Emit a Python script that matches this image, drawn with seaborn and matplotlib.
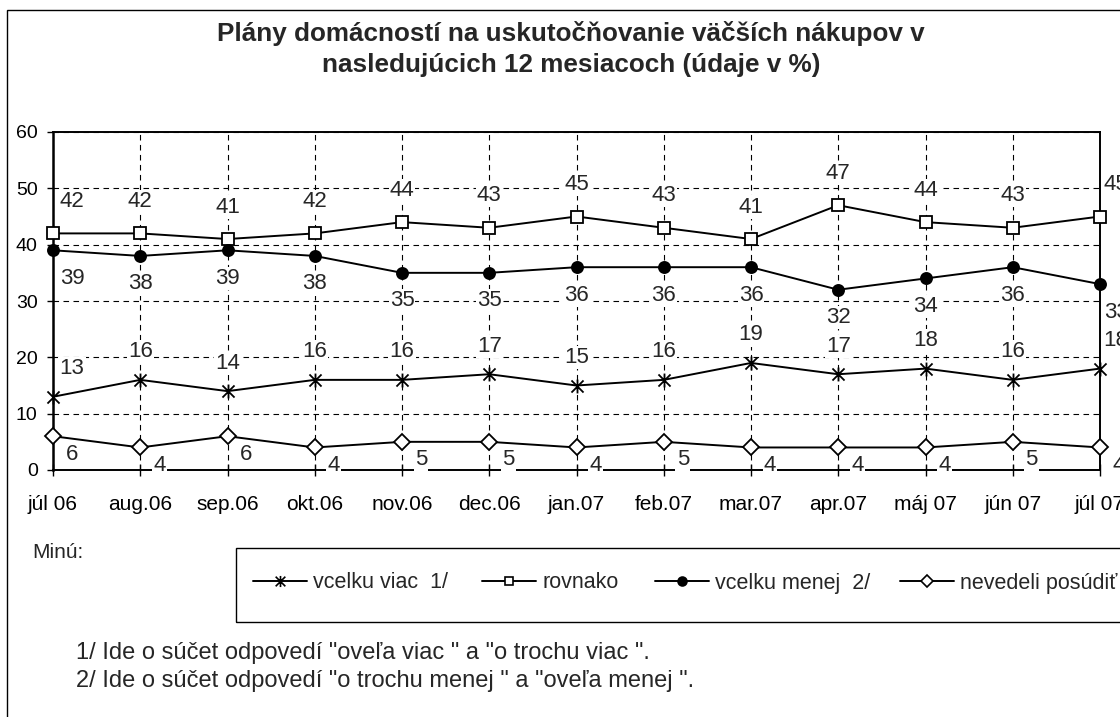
import numpy as np
import pandas as pd
import matplotlib
matplotlib.use("Agg")
import matplotlib.pyplot as plt
from matplotlib.path import Path
from matplotlib.patches import Rectangle
from matplotlib.lines import Line2D
import seaborn as sns

# Data (% of households)
months = ["júl 06", "aug.06", "sep.06", "okt.06", "nov.06", "dec.06", "jan.07",
          "feb.07", "mar.07", "apr.07", "máj 07", "jún 07", "júl 07"]
viac = [13, 16, 14, 16, 16, 17, 15, 16, 19, 17, 18, 16, 18]
rovnako = [42, 42, 41, 42, 44, 43, 45, 43, 41, 47, 44, 43, 45]
menej = [39, 38, 39, 38, 35, 35, 36, 36, 36, 32, 34, 36, 33]
nevedeli = [6, 4, 6, 4, 5, 5, 4, 5, 4, 4, 4, 5, 4]
y_ticks = [0, 10, 20, 30, 40, 50, 60]

title_1 = "Plány domácností na uskutočňovanie väčších nákupov v"
title_2 = "nasledujúcich 12 mesiacoch (údaje v %)"
note_1 = '1/ Ide o súčet odpovedí "oveľa viac " a "o trochu viac ".'
note_2 = '2/ Ide o súčet odpovedí "o trochu menej " a "oveľa menej ".'

sns.set_theme(style="white")
plt.rcParams['font.family'] = ['Liberation Sans', 'DejaVu Sans']

W, H = 1120, 717
fig = plt.figure(figsize=(W / 100, H / 100), dpi=100)
ax = fig.add_axes([53 / W, 1 - 470 / H, (1100 - 53) / W, (470 - 132) / H])

# Excel-style star marker: an X with a vertical bar through it
star = Path([(-1, -1), (1, 1), (-1, 1), (1, -1), (0, -1.15), (0, 1.15)],
            [Path.MOVETO, Path.LINETO, Path.MOVETO, Path.LINETO, Path.MOVETO, Path.LINETO])

styles = {
    "viac": dict(marker=star, markersize=10, markerfacecolor="black"),
    "rovnako": dict(marker="s", markersize=8, markerfacecolor="white"),
    "menej": dict(marker="o", markersize=8, markerfacecolor="black"),
    "nevedeli": dict(marker="D", markersize=8, markerfacecolor="white"),
}
series = [("viac", viac, "vcelku viac  1/"),
          ("rovnako", rovnako, "rovnako"),
          ("menej", menej, "vcelku menej  2/"),
          ("nevedeli", nevedeli, "nevedeli posúdiť")]

x = np.arange(len(months))
for key, vals, _ in series:
    sns.lineplot(x=x, y=vals, ax=ax, color="black", linewidth=1.4,
                 markeredgecolor="black", markeredgewidth=1.3, zorder=4,
                 clip_on=False, legend=False, **styles[key])

# data labels (white boxes hide lines behind them, like the original)
offsets = {"viac": (0, 28), "rovnako": (0, 32), "menej": (0, -28), "nevedeli": (19, -18)}
for key, vals, _ in series:
    dx, dy = offsets[key]
    for i, v in enumerate(vals):
        ddx = dx
        if key != "nevedeli":
            if i == 0:
                ddx = 19
            elif i == len(vals) - 1:
                ddx = 16
        ax.annotate(str(v), (i, v), xytext=(ddx, dy), textcoords="offset pixels",
                    ha="center", va="center", fontsize=16, zorder=6,
                    annotation_clip=False,
                    bbox=dict(boxstyle="square,pad=0.05", fc="white", ec="none"))

ax.set_xlim(0, len(months) - 1)
ax.set_ylim(0, 60)
ax.set_xticks(x)
ax.set_xticklabels(months)
ax.set_yticks(y_ticks)
ax.set_xlabel("")
ax.set_ylabel("")
ax.grid(True, color="black", linestyle=(0, (5, 4)), linewidth=0.8)
ax.set_axisbelow(True)
for s in ax.spines.values():
    s.set_visible(True)
    s.set_color("black")
    s.set_linewidth(1.4)
ax.spines["left"].set_linewidth(1.8)
ax.tick_params(axis="x", direction="inout", length=8, width=1, pad=14,
               labelsize=15, colors="black", bottom=True)
ax.tick_params(axis="y", direction="out", length=4, width=1, pad=7,
               labelsize=14, colors="black", left=True)

# titles and notes
fig.text(571 / W, 1 - 33 / H, title_1, ha="center", va="center", fontsize=18.8, fontweight="bold")
fig.text(571 / W, 1 - 65 / H, title_2, ha="center", va="center", fontsize=18.8, fontweight="bold")
fig.text(32 / W, 1 - 553 / H, "Minú:", ha="left", va="center", fontsize=15)
fig.text(76 / W, 1 - 653 / H, note_1, ha="left", va="center", fontsize=17)
fig.text(76 / W, 1 - 681 / H, note_2, ha="left", va="center", fontsize=17)

# outer frame and legend box (both run past the right/bottom edge)
fig.add_artist(Rectangle((7 / W, -0.2), 1.2, 1 - 10 / H + 0.2, transform=fig.transFigure,
                         fill=False, ec="black", lw=1))
fig.add_artist(Rectangle((236 / W, 1 - 622 / H), 1.0, 74 / H, transform=fig.transFigure,
                         fill=False, ec="black", lw=1))

legend_x = [253, 482, 655, 900]
for (key, _, label), lx in zip(series, legend_x):
    st = dict(styles[key])
    st["markersize"] = st["markersize"] * 0.8
    h = Line2D([], [], color="black", linewidth=1.4, markeredgecolor="black",
               markeredgewidth=1.2, **st)
    fig.legend([h], [label], loc="center left", bbox_to_anchor=(lx / W, 1 - 583 / H),
               frameon=False, fontsize=15.5, handlelength=2.5, handletextpad=0.3,
               borderpad=0, borderaxespad=0)

fig.savefig("out.png", dpi=100)
